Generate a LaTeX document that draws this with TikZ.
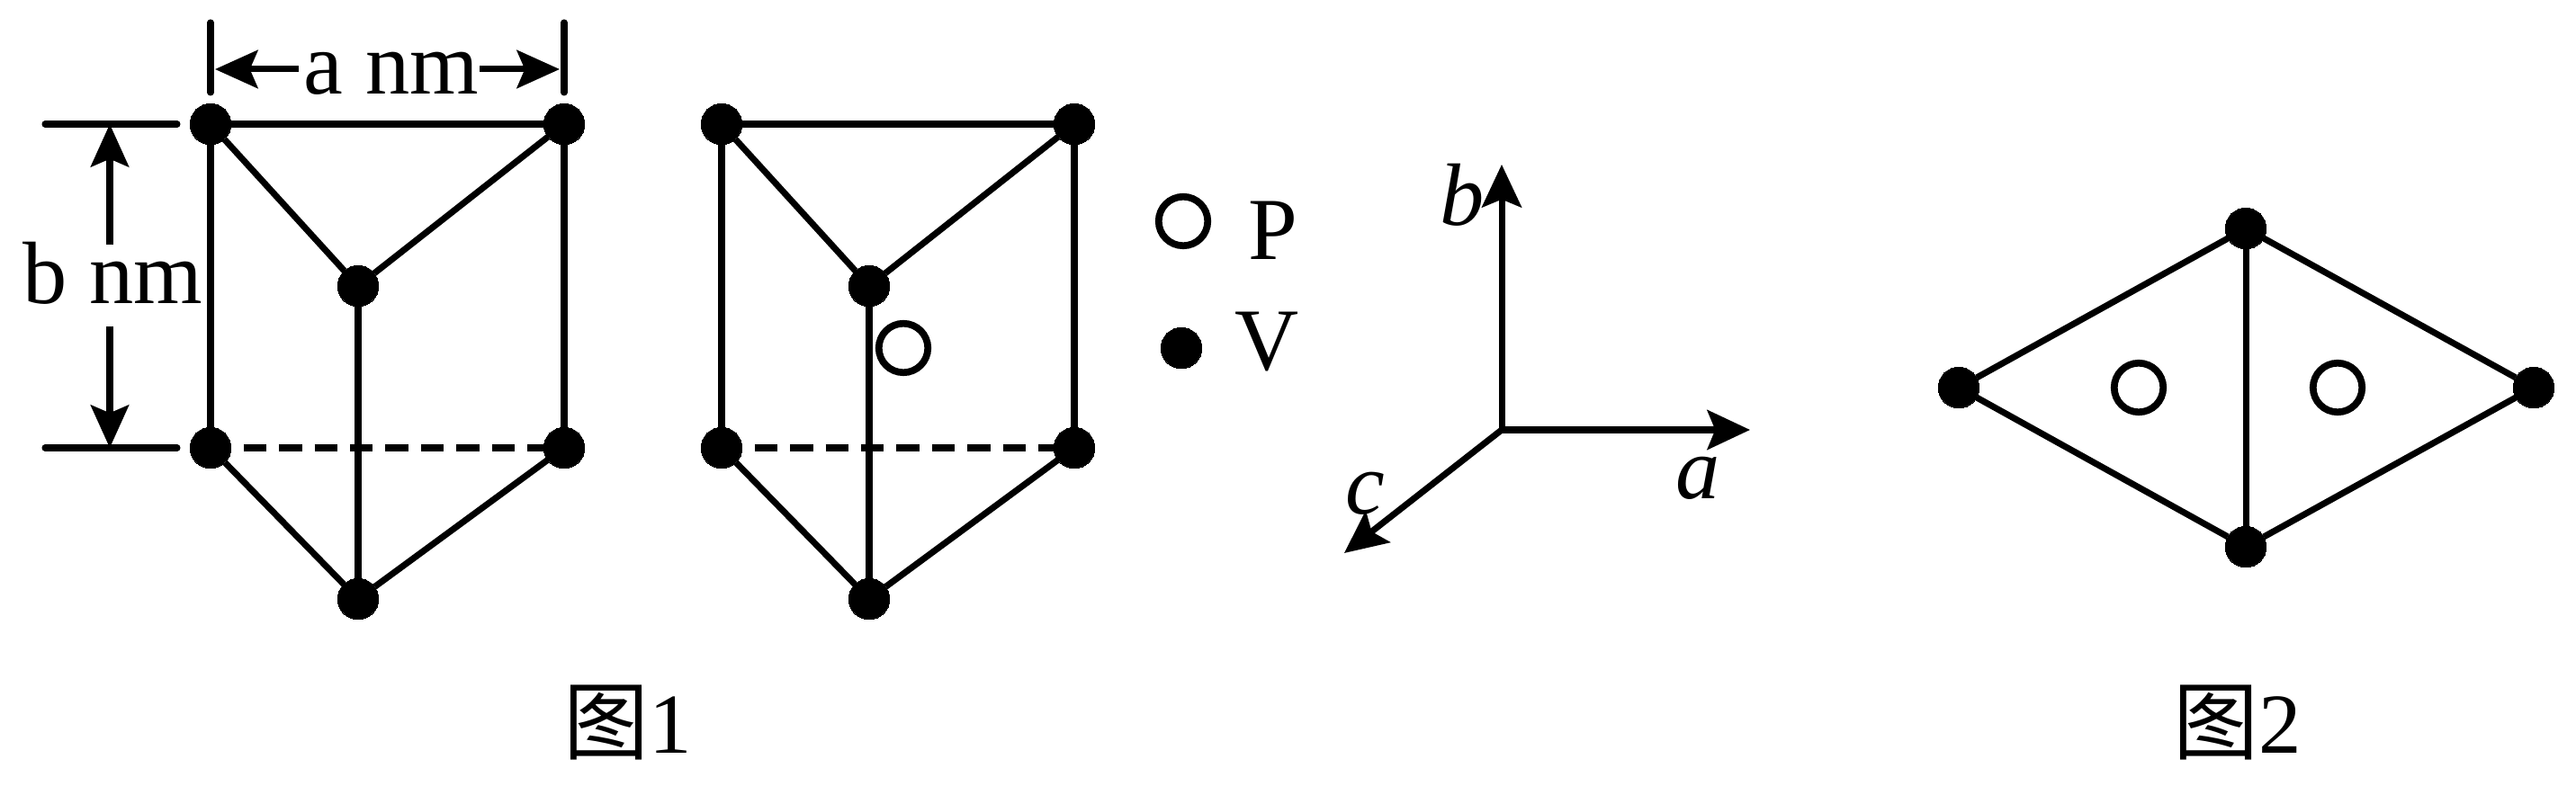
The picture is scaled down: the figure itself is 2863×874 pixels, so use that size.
\documentclass[tikz,border=0pt]{standalone}
\usepackage{fontspec}
\setmainfont{Liberation Serif}
\newfontfamily\cjk{Noto Sans CJK SC}
\usepackage{tikz}
\usetikzlibrary{calc, arrows.meta}

\tikzset{
  atomV/.style={circle,fill=black,draw=black,line width=0pt,inner sep=0pt,minimum size=13pt},
  atomP/.style={circle,fill=white,draw=black,line width=2.2pt,inner sep=0pt,minimum size=15.5pt},
  bond/.style={line width=2pt},
  hidden/.style={line width=2pt,dash pattern=on 7.2pt off 4pt,dash phase=7.2pt},
  dimline/.style={line width=2pt,line cap=round},
  dimarrow/.style={line width=2pt,-{Stealth[length=13.5pt,width=12pt,inset=2.5pt]}},
  axisarrow/.style={line width=2pt,-{Stealth[length=13.5pt,width=12.5pt,inset=2.5pt]}},
  label/.style={font=\fontsize{28}{30}\selectfont,inner sep=0pt},
  caption/.style={font=\fontsize{27}{30}\selectfont,inner sep=0pt}
}

\begin{document}
\begin{tikzpicture}[x=0.01cm,y=-0.01cm]

      \useasboundingbox (0,0) rectangle (2863,874);

      % FIRST PRISM

      \node[atomV] (atl) at (234,138) {};
      \node[atomV] (atr) at (627,138) {};
      \node[atomV] (amid) at (398,318) {};
      \node[atomV] (abl) at (234,498) {};
      \node[atomV] (abr) at (627,498) {};
      \node[atomV] (abot) at (398,666) {};

      \draw[bond] (atl) -- (atr);
      \draw[bond] (atl) -- (amid);
      \draw[bond] (atr) -- (amid);
      \draw[bond] (atl) -- (abl);
      \draw[bond] (atr) -- (abr);
      \draw[bond] (amid) -- (abot);
      \draw[bond] (abl) -- (abot);
      \draw[bond] (abr) -- (abot);
      \draw[hidden] (abl) -- (abr);

      % DIMENSIONS

      \coordinate (atick1) at ($(atl)+(0,-113)$);
      \coordinate (atick2) at ($(atl)+(0,-35)$);
      \coordinate (atick3) at ($(atr)+(0,-113)$);
      \coordinate (atick4) at ($(atr)+(0,-35)$);
      \draw[dimline] (atick1) -- (atick2);
      \draw[dimline] (atick3) -- (atick4);

      \coordinate (adim) at (435,77);
      \node[label] (alabel) at (435,82) {a nm};
      \draw[dimarrow] ($(adim)+(-103,0)$) -- ($(atl |- adim)+(5,0)$);
      \draw[dimarrow] ($(adim)+(98,0)$) -- ($(atr |- adim)+(-5,0)$);

      \coordinate (bline1) at ($(atl)+(-184,0)$);
      \coordinate (bline2) at ($(atl)+(-37,0)$);
      \coordinate (bline3) at ($(abl)+(-184,0)$);
      \coordinate (bline4) at ($(abl)+(-37,0)$);
      \draw[dimline] (bline1) -- (bline2);
      \draw[dimline] (bline3) -- (bline4);

      \coordinate (bdim) at (122,318);
      \node[label] (blabel) at (125,304) {b nm};
      \draw[dimarrow] ($(bdim)+(0,-46)$) -- (bdim |- atl);
      \draw[dimarrow] ($(bdim)+(0,45)$) -- (bdim |- abl);

      % SECOND PRISM

      \node[atomV] (btl) at (802,138) {};
      \node[atomV] (btr) at (1194,138) {};
      \node[atomV] (bmid) at (966,318) {};
      \node[atomV] (bbl) at (802,498) {};
      \node[atomV] (bbr) at (1194,498) {};
      \node[atomV] (bbot) at (966,666) {};
      \node[atomP] (bp) at (1004,387) {};

      \draw[bond] (btl) -- (btr);
      \draw[bond] (btl) -- (bmid);
      \draw[bond] (btr) -- (bmid);
      \draw[bond] (btl) -- (bbl);
      \draw[bond] (btr) -- (bbr);
      \draw[bond] (bmid) -- (bbot);
      \draw[bond] (bbl) -- (bbot);
      \draw[bond] (bbr) -- (bbot);
      \draw[hidden] (bbl) -- (bbr);

      % LEGEND

      \node[atomP] (legP) at (1315,246) {};
      \node[atomV] (legV) at (1313,387) {};
      \node[label] (legPtext) at (1415,256) {P};
      \node[label] (legVtext) at (1408,380) {V};

      % AXES

      \coordinate (origin) at (1669,478);
      \coordinate (bend) at (1669,183);
      \coordinate (aend) at (1945,478);
      \coordinate (cend) at (1494,615);
      \draw[axisarrow] (origin) -- (bend);
      \draw[axisarrow] (origin) -- (aend);
      \draw[axisarrow] (origin) -- (cend);
      \node[label] (blab) at (1625,217) {\textit{b}};
      \node[label] (alab) at (1887,532) {\textit{a}};
      \node[label] (clab) at (1517,549) {\textit{c}};

      % SECOND FIGURE

      \node[atomV] (dl) at (2177,431) {};
      \node[atomV] (dt) at (2496,254) {};
      \node[atomV] (dr) at (2816,431) {};
      \node[atomV] (db) at (2496,608) {};
      \node[atomP] (dp1) at (2377,431) {};
      \node[atomP] (dp2) at (2598,431) {};

      \draw[bond] (dl) -- (dt);
      \draw[bond] (dt) -- (dr);
      \draw[bond] (dr) -- (db);
      \draw[bond] (db) -- (dl);
      \draw[bond] (dt) -- (db);

      % CAPTIONS

      \node[caption] (cap1) at (698,804) {{\cjk 图}1};
      \node[caption] (cap2) at (2487,804) {{\cjk 图}2};

    \end{tikzpicture}
\end{document}
